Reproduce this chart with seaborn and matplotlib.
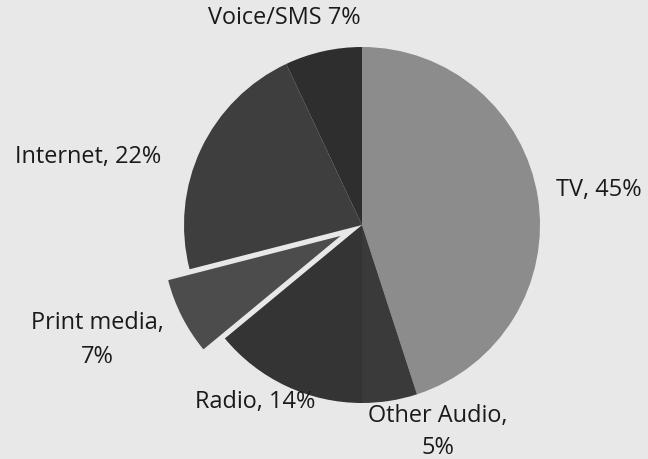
import matplotlib
matplotlib.use("Agg")
import matplotlib.pyplot as plt
import seaborn as sns

categories = ["TV", "Other Audio", "Radio", "Print media", "Internet", "Voice/SMS"]
shares = [45, 5, 14, 7, 22, 7]
label_texts = ["TV, 45%", "Other Audio,\n5%", "Radio, 14%", "Print media,\n7%",
               "Internet, 22%", "Voice/SMS 7%"]
explode_amounts = [0, 0, 0, 0.135, 0, 0]
slice_colors = ["#8c8c8c", "#3a3a3a", "#343434", "#4c4c4c", "#3e3e3e", "#2e2e2e"]

sns.set_theme(style="white")
plt.rcParams["font.family"] = ["Open Sans", "DejaVu Sans"]

W, H = 648, 459
fig = plt.figure(figsize=(W / 72, H / 72), dpi=72, facecolor="#e8e8e8")
ax = fig.add_axes([0, 0, 1, 1])
ax.set_facecolor("#e8e8e8")

cx, cy, r = 362, 225, 178
ax.pie(shares, colors=slice_colors, explode=explode_amounts, startangle=90,
       counterclock=False, radius=1.0, center=(0, 0),
       wedgeprops=dict(linewidth=0))
ax.set_xlim(-cx / r, (W - cx) / r)
ax.set_ylim(-(H - cy) / r, cy / r)
ax.set_aspect("auto")
ax.axis("off")

label_pos = {
    "TV": (599, 190),
    "Other Audio": (438, 432),
    "Radio": (255, 402),
    "Print media": (97, 340),
    "Internet": (88, 157),
    "Voice/SMS": (284, 18),
}
line_gap = {"Other Audio": 1.42, "Print media": 1.55}
for cat, txt in zip(categories, label_texts):
    px, py = label_pos[cat]
    fig.text(px / W, 1 - py / H, txt, ha="center", va="center",
             fontsize=23.5, color="#1a1a1a", linespacing=line_gap.get(cat, 1.2))

fig.savefig("out.png", dpi=72, facecolor=fig.get_facecolor())
